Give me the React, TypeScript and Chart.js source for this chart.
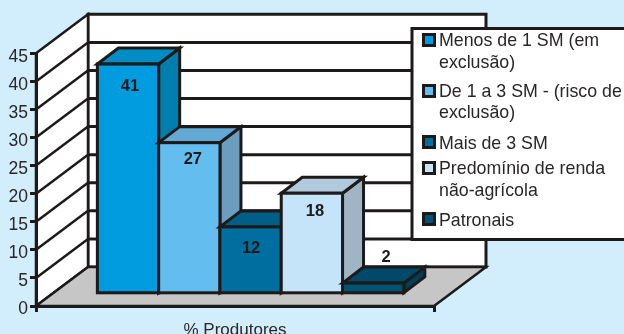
import { useEffect, useRef } from "react";
import { Chart, registerables } from "chart.js";

Chart.register(...registerables);

// Share of producers per income class
const categories = ["% Produtores"];
const seriesNames = [
  "Menos de 1 SM (em exclusão)",
  "De 1 a 3 SM - (risco de exclusão)",
  "Mais de 3 SM",
  "Predomínio de renda não-agrícola",
  "Patronais",
];
const seriesValues = [41, 27, 12, 18, 2];
const legendLines = [
  ["Menos de 1 SM (em", "exclusão)"],
  ["De 1 a 3 SM - (risco de", "exclusão)"],
  ["Mais de 3 SM"],
  ["Predomínio de renda", "não-agrícola"],
  ["Patronais"],
];
const frontColors = ["#009CDF", "#63BDEF", "#006E9F", "#C6E4F9", "#005273"];
const topColors = ["#008DC5", "#62A9D5", "#005E87", "#B0C9DD", "#00496A"];
const sideColors = ["#007FAE", "#6A9DBE", "#00557A", "#A0B5C4", "#003F5C"];

const INK = "#1E1A1A";
const PAGE = "#D2EEFC";
const FONT = '"Liberation Sans", Arial, sans-serif';

// Projection of the 3D box: full wall depth, the plane the bars stand on, bar depth
const WALL_DX = 52;
const WALL_DY = 39;
const PLANE_DX = 15.6;
const PLANE_DY = 11.7;
const BAR_DX = 21;
const BAR_DY = 16;

// Value label nudges relative to each bar's top centre
const labelNudgeX = [2, 3.5, 0.5, 3, 13];
const labelNudgeY = [22, 17, 22, 18.5, -26];

// Legend layout
const LEGEND = { x: 412, y: 28.5, bottom: 239.5, textX: 439 };
const legendRows = [
  { swatch: 33, lines: [41.5, 63.5] },
  { swatch: 84, lines: [92, 113.5] },
  { swatch: 135, lines: [144] },
  { swatch: 161, lines: [169.5, 191.5] },
  { swatch: 212, lines: [221.5] },
];

function poly(ctx: CanvasRenderingContext2D, pts: number[][], fill: string, lw: number) {
  ctx.beginPath();
  pts.forEach(([x, y], i) => (i ? ctx.lineTo(x, y) : ctx.moveTo(x, y)));
  ctx.closePath();
  ctx.fillStyle = fill;
  ctx.fill();
  ctx.lineWidth = lw;
  ctx.strokeStyle = INK;
  ctx.stroke();
}

const box3d = {
  id: "box3d",
  // Back wall, side wall and floor, aligned with the value axis
  beforeDraw(chart: any) {
    const { ctx, chartArea: a, scales } = chart;
    const y = scales.y;
    const top = y.getPixelForValue(45);
    const bot = y.getPixelForValue(0);
    ctx.save();
    ctx.fillStyle = PAGE;
    ctx.fillRect(0, 0, chart.width, chart.height);
    ctx.lineJoin = "miter";
    poly(ctx, [[a.left + WALL_DX, top - WALL_DY], [a.right + WALL_DX, top - WALL_DY], [a.right + WALL_DX, bot - WALL_DY], [a.left + WALL_DX, bot - WALL_DY]], "#FFFFFF", 3);
    poly(ctx, [[a.left, top], [a.left + WALL_DX, top - WALL_DY], [a.left + WALL_DX, bot - WALL_DY], [a.left, bot]], "#FFFFFF", 2.5);
    poly(ctx, [[a.left, bot], [a.right, bot], [a.right + WALL_DX, bot - WALL_DY], [a.left + WALL_DX, bot - WALL_DY]], "#C6C6C6", 2.5);
    y.ticks.forEach((t: any) => {
      if (t.value === 0 || t.value === 45) return;
      const p = y.getPixelForValue(t.value);
      ctx.strokeStyle = INK;
      ctx.beginPath();
      ctx.lineWidth = 2.5;
      ctx.moveTo(a.left, p);
      ctx.lineTo(a.left + WALL_DX, p - WALL_DY);
      ctx.stroke();
      ctx.beginPath();
      ctx.lineWidth = 3;
      ctx.moveTo(a.left + WALL_DX, p - WALL_DY);
      ctx.lineTo(a.right + WALL_DX, p - WALL_DY);
      ctx.stroke();
    });
    ctx.restore();
  },
  // Datasets are painted left to right below so nearer bars cover the sides of earlier ones
  beforeDatasetDraw() {
    return false;
  },
  afterDatasetsDraw(chart: any) {
    const { ctx } = chart;
    ctx.save();
    ctx.translate(PLANE_DX, -PLANE_DY);
    ctx.lineJoin = "miter";
    chart.data.datasets.forEach((_: any, i: number) => {
      const meta = chart.getDatasetMeta(i);
      const bar = meta.data[0];
      const l = bar.x - bar.width / 2;
      const r = bar.x + bar.width / 2;
      const t = bar.y;
      const b = bar.base;
      poly(ctx, [[r, t], [r + BAR_DX, t - BAR_DY], [r + BAR_DX, b - BAR_DY], [r, b]], sideColors[i], 3);
      poly(ctx, [[l, t], [l + BAR_DX, t - BAR_DY], [r + BAR_DX, t - BAR_DY], [r, t]], topColors[i], 3);
      meta.controller.draw();
      ctx.lineWidth = 3;
      ctx.strokeStyle = INK;
      ctx.strokeRect(l, t, r - l, b - t);
    });
    ctx.font = `bold 16.5px ${FONT}`;
    ctx.fillStyle = INK;
    ctx.textAlign = "center";
    ctx.textBaseline = "middle";
    chart.data.datasets.forEach((ds: any, i: number) => {
      const bar = chart.getDatasetMeta(i).data[0];
      ctx.fillText(String(ds.data[0]), bar.x + labelNudgeX[i], bar.y + labelNudgeY[i]);
    });
    ctx.restore();
  },
  // Legend box with wrapped entries
  afterDraw(chart: any) {
    const { ctx } = chart;
    ctx.save();
    ctx.lineWidth = 3;
    ctx.fillStyle = "#FFFFFF";
    ctx.strokeStyle = INK;
    ctx.beginPath();
    ctx.rect(LEGEND.x, LEGEND.y, chart.width + 10 - LEGEND.x, LEGEND.bottom - LEGEND.y);
    ctx.fill();
    ctx.stroke();
    ctx.font = `17.8px ${FONT}`;
    ctx.textBaseline = "middle";
    ctx.textAlign = "left";
    legendRows.forEach((row, i) => {
      ctx.fillStyle = frontColors[i];
      ctx.fillRect(423.5, row.swatch + 1.5, 11, 11);
      ctx.strokeRect(423.5, row.swatch + 1.5, 11, 11);
      ctx.fillStyle = "#2A2627";
      legendLines[i].forEach((line, k) => {
        ctx.fillText(line, LEGEND.textX, row.lines[k]);
      });
    });
    ctx.restore();
  },
};

export default function App() {
  const ref = useRef<HTMLCanvasElement>(null);
  useEffect(() => {
    document.body.style.margin = "0";
    document.body.style.background = PAGE;
    const chart = new Chart(ref.current!, {
      type: "bar",
      data: {
        labels: categories,
        datasets: seriesNames.map((name, i) => ({
          label: name,
          data: [seriesValues[i]],
          backgroundColor: frontColors[i],
          borderWidth: 0,
          categoryPercentage: 0.77,
          barPercentage: 1,
        })),
      },
      options: {
        animation: false,
        responsive: false,
        layout: { padding: { top: 53.3, right: 190, left: 0, bottom: 0 } },
        plugins: { legend: { display: false }, tooltip: { enabled: false }, title: { display: false } },
        scales: {
          x: {
            afterFit: (s: any) => { s.height = 28; },
            grid: { drawOnChartArea: false, color: INK, lineWidth: 3, tickLength: 6 },
            border: { color: INK, width: 3 },
            ticks: { color: "#2A2627", font: { family: FONT, size: 17 }, padding: 8, maxRotation: 0 },
          },
          y: {
            min: 0,
            max: 45,
            afterFit: (s: any) => { s.width = 36; },
            grid: { drawOnChartArea: false, color: INK, lineWidth: 3, tickLength: 6 },
            border: { color: INK, width: 3 },
            ticks: { stepSize: 5, color: "#2A2627", font: { family: FONT, size: 17.5 }, padding: 2, labelOffset: 3.5 },
          },
        },
      },
      plugins: [box3d],
    } as any);
    return () => chart.destroy();
  }, []);
  return <canvas ref={ref} width={624} height={334} style={{ display: "block", width: 624, height: 334 }} />;
}
